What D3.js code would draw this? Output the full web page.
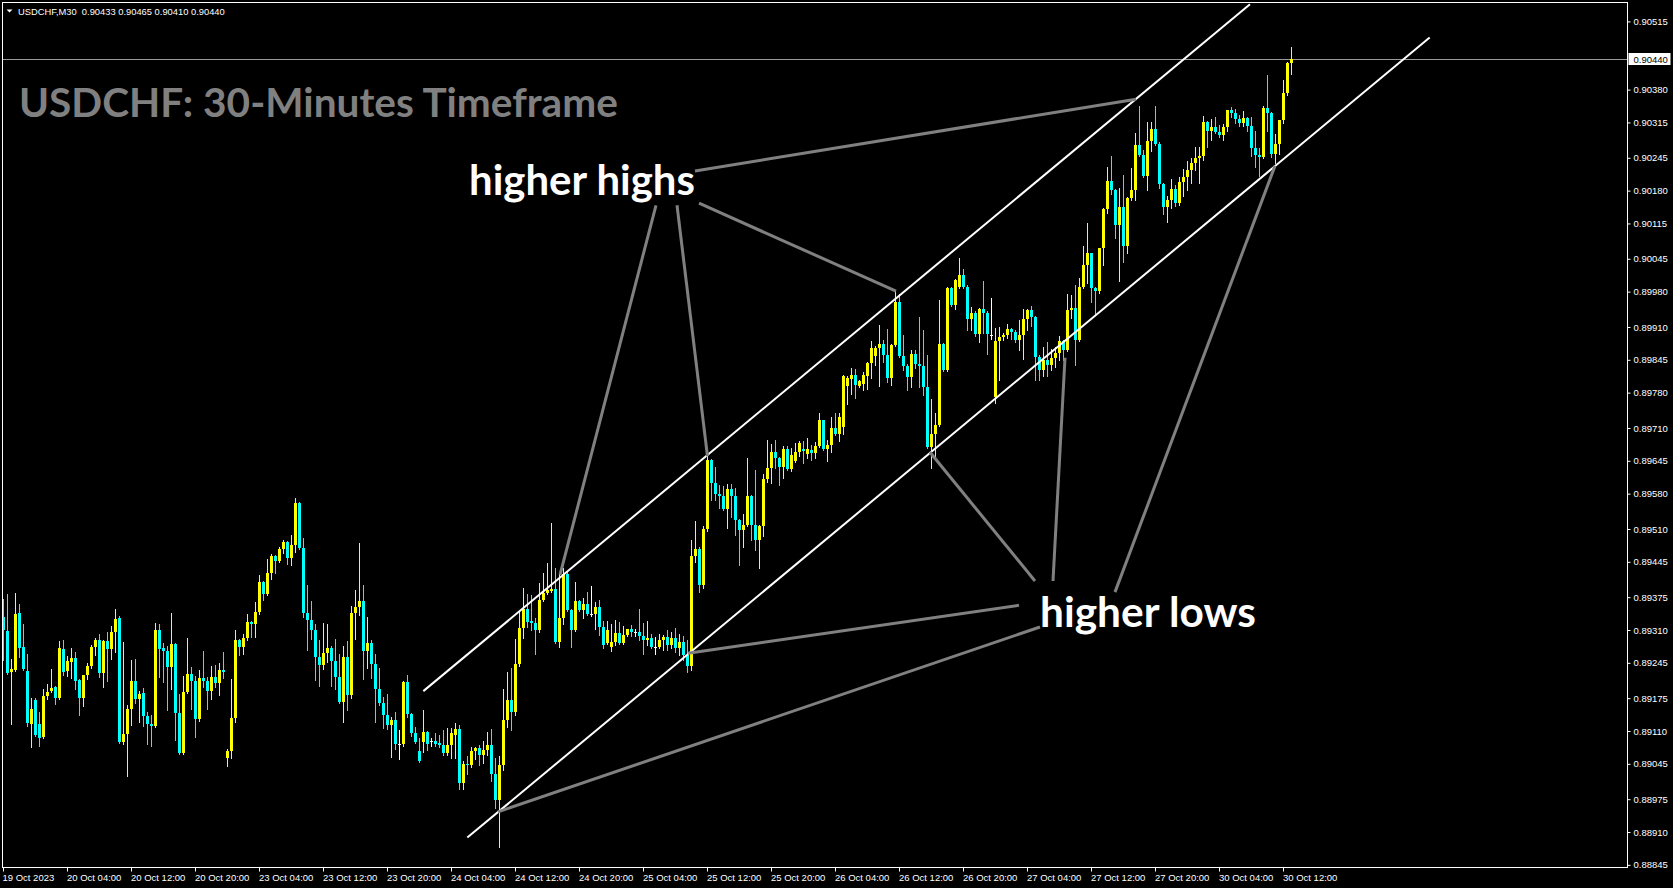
<!DOCTYPE html>
<html><head><meta charset="utf-8"><title>USDCHF M30</title>
<script src="https://cdn.jsdelivr.net/npm/d3@7/dist/d3.min.js"></script>
<style>html,body{margin:0;padding:0;background:#000;overflow:hidden}svg{display:block}</style>
</head><body>
<svg id="chart" width="1673" height="888"></svg>
<script>
// ---------------- data ----------------
const headerText = "USDCHF,M30  0.90433 0.90465 0.90410 0.90440";
const titleText = "USDCHF: 30-Minutes Timeframe";
const open = [0.89335,0.89308,0.89226,0.89230,0.89343,0.89276,0.89228,0.89123,0.89171,0.89123,
0.89098,0.89179,0.89189,0.89197,0.89175,0.89272,0.89228,0.89246,0.89254,0.89211,
0.89175,0.89221,0.89238,0.89276,0.89290,0.89224,0.89288,0.89272,0.89306,0.89333,
0.89088,0.89104,0.89153,0.89209,0.89173,0.89185,0.89139,0.89123,0.89120,0.89310,
0.89274,0.89268,0.89236,0.89282,0.89145,0.89066,0.89187,0.89222,0.89209,0.89133,
0.89215,0.89209,0.89189,0.89217,0.89205,0.89230,0.89056,0.89070,0.89135,0.89290,
0.89276,0.89294,0.89325,0.89321,0.89345,0.89405,0.89381,0.89422,0.89456,0.89446,
0.89470,0.89484,0.89452,0.89478,0.89561,0.89472,0.89343,0.89329,0.89310,0.89256,
0.89240,0.89264,0.89274,0.89248,0.89217,0.89167,0.89256,0.89181,0.89343,0.89355,
0.89367,0.89268,0.89284,0.89242,0.89193,0.89165,0.89141,0.89122,0.89131,0.89084,
0.89084,0.89207,0.89143,0.89106,0.89070,0.89088,0.89108,0.89090,0.89090,0.89086,
0.89082,0.89066,0.89082,0.89102,0.89114,0.89007,0.89044,0.89042,0.89070,0.89076,
0.89062,0.89072,0.89082,0.89024,0.88973,0.89042,0.89131,0.89171,0.89147,0.89242,
0.89314,0.89351,0.89327,0.89323,0.89310,0.89369,0.89383,0.89387,0.89391,0.89286,
0.89333,0.89420,0.89349,0.89310,0.89367,0.89349,0.89361,0.89341,0.89341,0.89355,
0.89316,0.89284,0.89276,0.89286,0.89304,0.89284,0.89300,0.89312,0.89306,0.89306,
0.89298,0.89290,0.89294,0.89276,0.89276,0.89290,0.89296,0.89280,0.89294,0.89274,
0.89286,0.89260,0.89238,0.89456,0.89470,0.89399,0.89510,0.89646,0.89601,0.89579,
0.89575,0.89549,0.89589,0.89575,0.89527,0.89508,0.89518,0.89575,0.89518,0.89488,
0.89516,0.89609,0.89630,0.89662,0.89650,0.89632,0.89668,0.89628,0.89644,0.89662,
0.89668,0.89658,0.89666,0.89660,0.89674,0.89725,0.89668,0.89676,0.89709,0.89699,
0.89711,0.89793,0.89807,0.89815,0.89793,0.89797,0.89813,0.89838,0.89852,0.89868,
0.89876,0.89854,0.89809,0.89874,0.89959,0.89852,0.89832,0.89811,0.89856,0.89836,
0.89832,0.89791,0.89672,0.89698,0.89716,0.89876,0.89824,0.89987,0.89953,0.89989,
0.90013,0.89989,0.89925,0.89937,0.89896,0.89945,0.89937,0.89894,0.89771,0.89882,
0.89890,0.89894,0.89906,0.89900,0.89884,0.89894,0.89925,0.89943,0.89929,0.89850,
0.89824,0.89844,0.89834,0.89848,0.89858,0.89882,0.89864,0.89943,0.89947,0.89884,
0.89989,0.90033,0.90056,0.89987,0.89981,0.90066,0.90143,0.90199,0.90181,0.90112,
0.90147,0.90070,0.90165,0.90181,0.90270,0.90250,0.90209,0.90278,0.90302,0.90272,
0.90193,0.90147,0.90161,0.90183,0.90155,0.90197,0.90207,0.90220,0.90234,0.90244,
0.90248,0.90315,0.90299,0.90305,0.90296,0.90290,0.90305,0.90339,0.90333,0.90321,
0.90313,0.90323,0.90307,0.90264,0.90250,0.90246,0.90343,0.90333,0.90252,0.90272,
0.90319,0.90373,0.90433];
const high = [0.89371,0.89381,0.89252,0.89383,0.89361,0.89321,0.89262,0.89175,0.89175,0.89147,
0.89193,0.89203,0.89232,0.89199,0.89288,0.89290,0.89258,0.89274,0.89266,0.89213,
0.89221,0.89244,0.89280,0.89294,0.89302,0.89290,0.89306,0.89318,0.89351,0.89337,
0.89286,0.89161,0.89250,0.89252,0.89189,0.89195,0.89147,0.89141,0.89323,0.89321,
0.89284,0.89278,0.89343,0.89284,0.89183,0.89219,0.89294,0.89236,0.89219,0.89230,
0.89268,0.89217,0.89238,0.89240,0.89244,0.89266,0.89074,0.89213,0.89310,0.89292,
0.89302,0.89341,0.89327,0.89365,0.89419,0.89407,0.89450,0.89460,0.89458,0.89474,
0.89488,0.89486,0.89498,0.89571,0.89563,0.89492,0.89399,0.89367,0.89321,0.89290,
0.89323,0.89321,0.89278,0.89292,0.89262,0.89278,0.89288,0.89357,0.89389,0.89482,
0.89399,0.89335,0.89290,0.89262,0.89234,0.89177,0.89183,0.89137,0.89147,0.89112,
0.89209,0.89221,0.89145,0.89118,0.89096,0.89151,0.89110,0.89096,0.89106,0.89102,
0.89112,0.89116,0.89116,0.89125,0.89122,0.89050,0.89060,0.89078,0.89078,0.89082,
0.89090,0.89108,0.89114,0.89056,0.89060,0.89193,0.89226,0.89234,0.89292,0.89347,
0.89393,0.89381,0.89379,0.89333,0.89403,0.89422,0.89442,0.89521,0.89432,0.89422,
0.89432,0.89426,0.89351,0.89405,0.89369,0.89373,0.89385,0.89397,0.89365,0.89369,
0.89327,0.89327,0.89321,0.89329,0.89325,0.89318,0.89312,0.89319,0.89312,0.89351,
0.89323,0.89327,0.89302,0.89296,0.89302,0.89300,0.89310,0.89306,0.89314,0.89302,
0.89298,0.89290,0.89488,0.89525,0.89474,0.89516,0.89654,0.89648,0.89632,0.89597,
0.89595,0.89599,0.89599,0.89591,0.89529,0.89539,0.89650,0.89577,0.89626,0.89518,
0.89618,0.89686,0.89678,0.89686,0.89652,0.89674,0.89674,0.89670,0.89680,0.89684,
0.89684,0.89690,0.89676,0.89682,0.89739,0.89725,0.89686,0.89731,0.89739,0.89739,
0.89815,0.89813,0.89828,0.89826,0.89805,0.89821,0.89840,0.89882,0.89872,0.89914,
0.89884,0.89906,0.89876,0.89983,0.89976,0.89894,0.89836,0.89864,0.89864,0.89929,
0.89904,0.89854,0.89767,0.89739,0.89963,0.89878,0.89989,0.89989,0.90005,0.90046,
0.90025,0.89993,0.89949,0.89941,0.89947,0.90001,0.89941,0.89967,0.89908,0.89910,
0.89898,0.89916,0.89908,0.89904,0.89923,0.89945,0.89945,0.89951,0.89931,0.89854,
0.89870,0.89880,0.89866,0.89870,0.89892,0.89884,0.89976,0.89974,0.89993,0.90007,
0.90070,0.90115,0.90056,0.89989,0.90066,0.90145,0.90226,0.90248,0.90183,0.90185,
0.90211,0.90167,0.90224,0.90294,0.90347,0.90260,0.90315,0.90315,0.90347,0.90276,
0.90195,0.90169,0.90203,0.90191,0.90207,0.90222,0.90238,0.90244,0.90266,0.90266,
0.90327,0.90317,0.90321,0.90325,0.90309,0.90311,0.90339,0.90345,0.90341,0.90329,
0.90337,0.90325,0.90325,0.90299,0.90264,0.90347,0.90409,0.90335,0.90292,0.90319,
0.90399,0.90435,0.90465];
const low = [0.89250,0.89222,0.89123,0.89228,0.89256,0.89230,0.89120,0.89078,0.89100,0.89080,
0.89096,0.89173,0.89187,0.89163,0.89173,0.89221,0.89219,0.89215,0.89193,0.89141,
0.89159,0.89213,0.89234,0.89260,0.89217,0.89197,0.89209,0.89252,0.89266,0.89086,
0.89084,0.89021,0.89122,0.89165,0.89127,0.89120,0.89084,0.89080,0.89118,0.89217,
0.89207,0.89151,0.89193,0.89092,0.89064,0.89064,0.89185,0.89153,0.89098,0.89129,
0.89197,0.89153,0.89173,0.89197,0.89181,0.89215,0.89040,0.89056,0.89127,0.89260,
0.89262,0.89290,0.89296,0.89296,0.89341,0.89369,0.89379,0.89411,0.89422,0.89444,
0.89462,0.89440,0.89438,0.89464,0.89470,0.89335,0.89270,0.89292,0.89211,0.89199,
0.89232,0.89246,0.89199,0.89193,0.89165,0.89127,0.89151,0.89175,0.89292,0.89339,
0.89213,0.89234,0.89215,0.89127,0.89161,0.89116,0.89114,0.89058,0.89074,0.89054,
0.89080,0.89137,0.89100,0.89086,0.89048,0.89068,0.89072,0.89080,0.89080,0.89078,
0.89062,0.89062,0.89056,0.89056,0.88995,0.88995,0.89024,0.89038,0.89054,0.89042,
0.89046,0.89062,0.89011,0.88957,0.88880,0.89032,0.89118,0.89112,0.89141,0.89238,
0.89294,0.89316,0.89310,0.89262,0.89306,0.89367,0.89381,0.89385,0.89284,0.89276,
0.89321,0.89347,0.89276,0.89308,0.89347,0.89333,0.89339,0.89337,0.89312,0.89300,
0.89274,0.89282,0.89268,0.89280,0.89282,0.89282,0.89298,0.89298,0.89298,0.89290,
0.89262,0.89280,0.89274,0.89262,0.89274,0.89270,0.89270,0.89274,0.89266,0.89260,
0.89250,0.89226,0.89230,0.89444,0.89385,0.89393,0.89506,0.89567,0.89567,0.89551,
0.89547,0.89512,0.89533,0.89498,0.89438,0.89474,0.89516,0.89488,0.89468,0.89432,
0.89496,0.89603,0.89601,0.89630,0.89597,0.89611,0.89626,0.89624,0.89642,0.89654,
0.89640,0.89650,0.89646,0.89650,0.89672,0.89666,0.89644,0.89662,0.89697,0.89684,
0.89699,0.89757,0.89777,0.89769,0.89791,0.89785,0.89787,0.89809,0.89834,0.89793,
0.89840,0.89801,0.89795,0.89872,0.89850,0.89824,0.89785,0.89791,0.89828,0.89791,
0.89775,0.89670,0.89630,0.89650,0.89714,0.89822,0.89822,0.89951,0.89945,0.89987,
0.89987,0.89904,0.89904,0.89892,0.89880,0.89898,0.89856,0.89886,0.89759,0.89805,
0.89884,0.89888,0.89886,0.89880,0.89864,0.89846,0.89904,0.89912,0.89805,0.89805,
0.89813,0.89813,0.89824,0.89830,0.89844,0.89844,0.89862,0.89927,0.89834,0.89882,
0.89987,0.89997,0.89959,0.89933,0.89977,0.90033,0.90135,0.90173,0.90086,0.90001,
0.90039,0.90056,0.90161,0.90161,0.90248,0.90207,0.90181,0.90258,0.90270,0.90185,
0.90133,0.90117,0.90145,0.90149,0.90151,0.90169,0.90181,0.90195,0.90220,0.90195,
0.90240,0.90266,0.90280,0.90294,0.90286,0.90280,0.90299,0.90325,0.90313,0.90307,
0.90307,0.90299,0.90248,0.90226,0.90209,0.90244,0.90299,0.90246,0.90234,0.90252,
0.90313,0.90369,0.90410];
const close = [0.89310,0.89224,0.89232,0.89341,0.89274,0.89232,0.89125,0.89153,0.89102,0.89096,
0.89179,0.89187,0.89195,0.89175,0.89274,0.89226,0.89248,0.89254,0.89209,0.89175,
0.89221,0.89238,0.89276,0.89290,0.89224,0.89288,0.89272,0.89306,0.89331,0.89088,
0.89104,0.89153,0.89209,0.89173,0.89183,0.89139,0.89123,0.89120,0.89310,0.89272,
0.89268,0.89236,0.89282,0.89145,0.89066,0.89187,0.89222,0.89209,0.89133,0.89215,
0.89209,0.89189,0.89217,0.89205,0.89230,0.89226,0.89070,0.89135,0.89290,0.89276,
0.89294,0.89325,0.89321,0.89345,0.89405,0.89381,0.89422,0.89456,0.89446,0.89470,
0.89484,0.89452,0.89478,0.89561,0.89472,0.89343,0.89329,0.89310,0.89256,0.89240,
0.89264,0.89274,0.89248,0.89217,0.89167,0.89256,0.89181,0.89343,0.89355,0.89367,
0.89268,0.89284,0.89242,0.89193,0.89165,0.89141,0.89122,0.89131,0.89084,0.89084,
0.89207,0.89143,0.89106,0.89088,0.89050,0.89108,0.89084,0.89090,0.89084,0.89082,
0.89066,0.89082,0.89106,0.89114,0.89007,0.89044,0.89042,0.89070,0.89076,0.89062,
0.89072,0.89082,0.89024,0.88973,0.89042,0.89131,0.89171,0.89147,0.89242,0.89314,
0.89351,0.89325,0.89323,0.89310,0.89369,0.89383,0.89389,0.89391,0.89286,0.89333,
0.89420,0.89349,0.89310,0.89367,0.89349,0.89361,0.89341,0.89341,0.89355,0.89316,
0.89280,0.89310,0.89286,0.89304,0.89284,0.89300,0.89312,0.89306,0.89306,0.89298,
0.89290,0.89294,0.89276,0.89276,0.89290,0.89296,0.89280,0.89294,0.89274,0.89286,
0.89260,0.89238,0.89456,0.89470,0.89399,0.89510,0.89646,0.89601,0.89579,0.89575,
0.89549,0.89589,0.89575,0.89527,0.89508,0.89518,0.89575,0.89518,0.89488,0.89516,
0.89609,0.89630,0.89662,0.89650,0.89632,0.89668,0.89628,0.89656,0.89662,0.89680,
0.89664,0.89668,0.89660,0.89674,0.89725,0.89668,0.89676,0.89709,0.89699,0.89731,
0.89813,0.89809,0.89815,0.89795,0.89803,0.89815,0.89838,0.89868,0.89868,0.89876,
0.89854,0.89809,0.89874,0.89959,0.89852,0.89832,0.89811,0.89856,0.89836,0.89832,
0.89791,0.89672,0.89698,0.89716,0.89876,0.89824,0.89987,0.89953,0.90003,0.90013,
0.89989,0.89925,0.89937,0.89896,0.89945,0.89937,0.89896,0.89894,0.89882,0.89890,
0.89894,0.89906,0.89900,0.89884,0.89894,0.89925,0.89943,0.89929,0.89850,0.89824,
0.89844,0.89834,0.89848,0.89858,0.89882,0.89864,0.89943,0.89947,0.89884,0.89989,
0.90033,0.90056,0.89987,0.89981,0.90066,0.90143,0.90199,0.90181,0.90112,0.90147,
0.90070,0.90165,0.90181,0.90270,0.90250,0.90209,0.90278,0.90302,0.90272,0.90193,
0.90147,0.90161,0.90183,0.90155,0.90197,0.90207,0.90220,0.90234,0.90244,0.90248,
0.90315,0.90299,0.90305,0.90296,0.90290,0.90305,0.90339,0.90333,0.90321,0.90313,
0.90323,0.90307,0.90264,0.90250,0.90246,0.90343,0.90333,0.90252,0.90272,0.90319,
0.90373,0.90433,0.90440];

const timeTickIndex = [0,16,32,48,64,80,96,112,128,144,160,176,192,208,224,240,256,272,288,304,320];
const timeTickLabels = ["19 Oct 2023","20 Oct 04:00","20 Oct 12:00","20 Oct 20:00","23 Oct 04:00","23 Oct 12:00","23 Oct 20:00","24 Oct 04:00","24 Oct 12:00","24 Oct 20:00","25 Oct 04:00","25 Oct 12:00","25 Oct 20:00","26 Oct 04:00","26 Oct 12:00","26 Oct 20:00","27 Oct 04:00","27 Oct 12:00","27 Oct 20:00","30 Oct 04:00","30 Oct 12:00"];
const priceTicks = [0.90515,0.90380,0.90315,0.90245,0.90180,0.90115,0.90045,0.89980,0.89910,0.89845,0.89780,0.89710,0.89645,0.89580,0.89510,0.89445,0.89375,0.89310,0.89245,0.89175,0.89110,0.89045,0.88975,0.88910,0.88845];
const lastPrice = 0.90440;

// trend channel (bar index, price)
const channelUpper = [[105.08,0.89189],[311.75,0.90549]];
const channelLower = [[116.08,0.88899],[356.67,0.90483]];
// pointer lines (bar index, price) -> (bar index, price)
const pointerLines = [
  [[173.0,0.90219],[283.25,0.90361]],
  [[174.0,0.90155],[223.25,0.89981]],
  [[163.25,0.90151],[139.25,0.89419]],
  [[168.5,0.90151],[176.12,0.89654]],
  [[254.0,0.89359],[171.25,0.89264]],
  [[259.25,0.89316],[123.75,0.88950]],
  [[258.0,0.89407],[231.75,0.89662]],
  [[262.5,0.89407],[265.5,0.89849]],
  [[278.0,0.89385],[318.0,0.90229]]
];
const annotations = [
  {text:"higher highs", i:116.5, p:0.90171, width:226},
  {text:"higher lows",  i:259.25, p:0.89315, width:216}
];

// ---------------- chart ----------------
const svg = d3.select("#chart");
const frame = {left:2.5, top:2.5, right:1627.5, bottom:867.5};
const x = d3.scaleLinear().domain([0,322]).range([3,1291]);
const y = d3.scaleLinear().domain([0.88845,0.90440]).range([864.85,59.3]);

svg.append("rect").attr("width",1673).attr("height",888).attr("fill","#000");

const clip = svg.append("clipPath").attr("id","plotclip").append("rect")
  .attr("x",frame.left).attr("y",frame.top)
  .attr("width",frame.right-frame.left).attr("height",frame.bottom-frame.top);
const plot = svg.append("g").attr("clip-path","url(#plotclip)");

// price line
plot.append("line").attr("x1",frame.left).attr("x2",frame.right)
  .attr("y1",Math.round(y(lastPrice))+0.5).attr("y2",Math.round(y(lastPrice))+0.5)
  .attr("stroke","#9a9a9a").attr("stroke-width",1);

const bars = d3.range(open.length).map(i=>({i,o:open[i],h:high[i],l:low[i],c:close[i]}));
const col = d => d.c>d.o ? "#ffff00" : (d.c<d.o ? "#00ffff" : "#ffffff");
const cg = plot.append("g").attr("shape-rendering","crispEdges");
cg.selectAll("line.wick").data(bars).join("line").attr("class","wick")
  .attr("x1",d=>Math.round(x(d.i))+0.5).attr("x2",d=>Math.round(x(d.i))+0.5)
  .attr("y1",d=>Math.round(y(d.h))).attr("y2",d=>Math.round(y(d.l))+1)
  .attr("stroke",col).attr("stroke-width",1);
cg.selectAll("rect.body").data(bars).join("rect").attr("class","body")
  .attr("x",d=>Math.round(x(d.i))-1).attr("width",3)
  .attr("y",d=>Math.round(y(Math.max(d.o,d.c))))
  .attr("height",d=>Math.max(1,Math.round(y(Math.min(d.o,d.c)))-Math.round(y(Math.max(d.o,d.c)))))
  .attr("fill",col);

// channel lines
const lineGen = d3.line().x(d=>x(d[0])).y(d=>y(d[1]));
plot.selectAll("path.chan").data([channelUpper,channelLower]).join("path").attr("class","chan")
  .attr("d",lineGen).attr("stroke","#ffffff").attr("stroke-width",2).attr("fill","none");
plot.selectAll("path.ptr").data(pointerLines).join("path").attr("class","ptr")
  .attr("d",lineGen).attr("stroke","#808080").attr("stroke-width",3).attr("fill","none");

// fit helper
function fitWidth(sel, w){
  const len = sel.node().getComputedTextLength();
  const fs = parseFloat(sel.attr("font-size"));
  if(len>0) sel.attr("font-size", fs*w/len);
}

// annotations
annotations.forEach(a=>{
  const t = svg.append("text").attr("x",x(a.i)).attr("y",y(a.p))
    .attr("font-family","Lato, 'Open Sans', sans-serif").attr("font-weight",700)
    .attr("font-size",40).attr("fill","#ffffff").text(a.text);
  fitWidth(t,a.width);
});

// title
const tt = svg.append("text").attr("x",19).attr("y",117)
  .attr("font-family","Lato, 'Open Sans', sans-serif").attr("font-weight",700)
  .attr("font-size",34).attr("fill","#808080").text(titleText);
fitWidth(tt,599);

// header
svg.append("path").attr("d","M6.5,9.5 L12.5,9.5 L9.5,12.5 Z").attr("fill","#ffffff");
const ht = svg.append("text").attr("x",18).attr("y",14.5)
  .attr("font-family","'Liberation Sans', Arial, sans-serif").attr("font-size",10)
  .attr("fill","#ffffff").attr("xml:space","preserve").style("white-space","pre").text(headerText);
fitWidth(ht,207);

// axes
const yAxis = d3.axisRight(y).tickValues(priceTicks).tickFormat(d=>d.toFixed(5)).tickSize(3).tickPadding(3);
const gy = svg.append("g").attr("transform",`translate(${frame.right},0)`).call(yAxis);
gy.select(".domain").remove();
gy.selectAll("line").attr("stroke","#ffffff");
gy.selectAll("text").attr("fill","#ffffff").attr("font-family","'Liberation Sans', Arial, sans-serif").attr("font-size",9.5);

const xAxis = d3.axisBottom(x).tickValues(timeTickIndex).tickFormat((d,k)=>timeTickLabels[k]).tickSize(4).tickPadding(3);
const gx = svg.append("g").attr("transform",`translate(0,${frame.bottom})`).call(xAxis);
gx.select(".domain").remove();
gx.selectAll("line").attr("stroke","#ffffff");
gx.selectAll("text").attr("fill","#ffffff").attr("text-anchor","start")
  .attr("font-family","'Liberation Sans', Arial, sans-serif").attr("font-size",9.5)
  .attr("dx",d=>d===0?-1:-0.5);

// frame
svg.append("path").attr("d",`M${frame.left},${frame.bottom} L${frame.left},${frame.top} L${frame.right},${frame.top} L${frame.right},${frame.bottom} L${frame.left},${frame.bottom}`)
  .attr("fill","none").attr("stroke","#ffffff").attr("stroke-width",1).attr("shape-rendering","crispEdges");

// last price box
const ly = y(lastPrice);
svg.append("rect").attr("x",frame.right+1).attr("y",Math.round(ly)-6).attr("width",42).attr("height",12).attr("fill","#ffffff");
svg.append("text").attr("x",frame.right+6).attr("y",Math.round(ly)+3.5)
  .attr("font-family","'Liberation Sans', Arial, sans-serif").attr("font-size",9.5)
  .attr("fill","#000000").text(lastPrice.toFixed(5));
</script>
</body></html>
